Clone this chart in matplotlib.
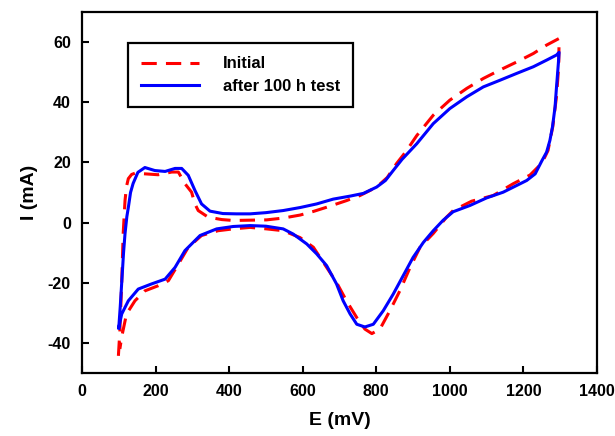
import numpy as np
import matplotlib as mpl
mpl.use('Agg')
import matplotlib.pyplot as plt

plt.rcParams['font.family'] = ['Liberation Sans', 'DejaVu Sans']
plt.rcParams['font.weight'] = 'bold'
plt.rcParams['axes.unicode_minus'] = False

# initial CV loop (forward sweep then reverse)
E_init = [99, 103, 108, 112, 117, 121, 126, 135, 144, 171, 207, 244, 262, 280, 298, 307,
          316, 343, 380, 411, 457, 502, 547, 593, 629, 665, 719, 756, 801, 830, 855, 880,
          910, 955, 1000, 1046, 1091, 1136, 1182, 1227, 1263, 1297,
          1296, 1290, 1280, 1267, 1254, 1240, 1218, 1172, 1118, 1059, 1009, 991, 955, 919,
          892, 864, 837, 810, 788, 769, 747, 719, 692, 656, 629, 593, 547, 502, 457, 411,
          370, 325, 289, 262, 235, 207, 171, 144, 121, 108, 103]
I_init = [-44.3, -36, -20, -3.7, 7.3, 12, 14.6, 16, 16.4, 16.2, 15.9, 16.8, 16.8, 12.9, 10.1, 6.2,
          4, 1.8, 1, 0.7, 0.8, 0.9, 1.5, 2.5, 3.7, 5.1, 7.3, 9, 11.8, 15, 19.6, 23.5,
          28.9, 35.7, 40.7, 44.6, 47.9, 50.7, 53.4, 56.2, 59, 61.2,
          52, 42, 32, 24, 20.7, 18.5, 15.8, 12.9, 9, 7.1, 4, 1.8, -3.6, -8.2,
          -14.9, -22.7, -29.3, -35.4, -36.9, -35.4, -31.6, -26, -19.9, -13.2, -8.2, -5, -2.7, -2.1, -1.6, -2.1,
          -2.7, -4.3, -8.2, -13.8, -19.3, -21, -22.7, -26, -30.4, -38, -42]

# after 100 h test
E_after = [100, 104, 108, 113, 117, 122, 126, 132, 139, 152, 171, 198, 226, 253, 271, 289, 307,
           325, 348, 383, 420, 457, 500, 547, 593, 638, 683, 729, 765, 801, 825, 846, 870,
           910, 955, 1000, 1046, 1091, 1136, 1182, 1227, 1263, 1290, 1297,
           1295, 1290, 1286, 1279, 1272, 1263, 1250, 1232, 1209, 1191, 1145, 1100, 1055, 1009,
           982, 955, 928, 900, 873, 846, 819, 792, 769, 747, 729, 710, 692, 665, 638, 611, 574,
           547, 500, 457, 411, 366, 321, 280, 253, 226, 189, 153, 126, 108, 100]
I_after = [-35, -28, -20, -10, -3.7, 2, 5, 10, 13, 16.7, 18.3, 17.3, 17, 18, 18, 15.7, 10.7,
           6.2, 3.8, 3, 2.9, 2.9, 3.3, 4, 5, 6.2, 7.8, 8.8, 9.7, 11.8, 14, 17.3, 21,
           26.2, 32.9, 37.9, 41.8, 45.1, 47.3, 49.6, 51.8, 54, 55.7, 56.6,
           52.9, 45.1, 38.4, 31.8, 27.3, 23.4, 20.5, 16.2, 14, 12.9, 10.1, 8.2, 5.7, 3.6,
           0.8, -2.7, -6.6, -11.6, -17.7, -23.8, -29.3, -33.8, -34.7, -33.8, -30.4, -26, -20.4, -14.3, -10.4, -7.1, -3.8,
           -2.1, -1.2, -1, -1.3, -2.1, -4.3, -9.3, -14.9, -18.8, -20.4, -22.1, -26, -30.4, -35]

fig = plt.figure(figsize=(6.15, 4.36), dpi=100)
ax = fig.add_axes([0.1333, 0.1445, 0.8374, 0.828])

ax.plot(E_init, I_init, color='#ff0000', lw=2.2, dashes=(5, 3), dash_joinstyle='round',
        label='Initial')
ax.plot(E_after, I_after, color='#0000ff', lw=2.2, solid_joinstyle='round',
        label='after 100 h test')

ax.set_xlim(0, 1400)
ax.set_ylim(-50, 70)
ax.set_xticks(np.arange(0, 1401, 200))
ax.set_yticks(np.arange(-40, 61, 20))
ax.tick_params(direction='in', length=5, width=1.5, labelsize=11.5, top=False, right=False, pad=8)
for lab in ax.get_xticklabels() + ax.get_yticklabels():
    lab.set_fontweight('bold')
for s in ax.spines.values():
    s.set_linewidth(1.6)

ax.set_xlabel('E (mV)', fontsize=14, fontweight='bold', labelpad=9)
ax.set_ylabel('I (mA)', fontsize=14, fontweight='bold', labelpad=7)

leg = ax.legend(loc='upper left', bbox_to_anchor=(0.089, 0.914), borderaxespad=0,
                fontsize=12, handlelength=3.5, handletextpad=1.4, fancybox=False,
                edgecolor='black', framealpha=1, borderpad=0.8, labelspacing=0.45)
leg.get_frame().set_linewidth(1.6)
for t in leg.get_texts():
    t.set_fontweight('bold')

fig.savefig('out.png', dpi=100)
